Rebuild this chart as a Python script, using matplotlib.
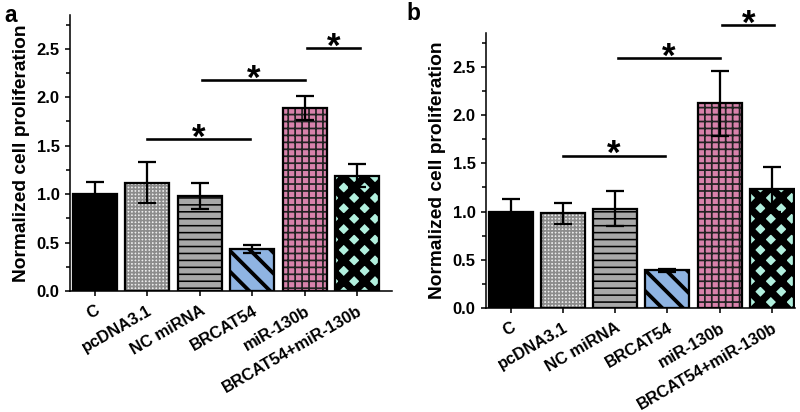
import numpy as np
import matplotlib
matplotlib.use("Agg")
import matplotlib.pyplot as plt

plt.rcParams['font.family'] = ['Liberation Sans', 'DejaVu Sans']
plt.rcParams['font.weight'] = 'bold'

groups = ['C', 'pcDNA3.1', 'NC miRNA', 'BRCAT54', 'miR-130b', 'BRCAT54+miR-130b']

# panel a
means_a = [1.00, 1.12, 0.98, 0.43, 1.89, 1.19]
errs_a = [0.13, 0.21, 0.13, 0.04, 0.12, 0.12]
# (x start, x end, height) of significance bars
sig_a = [(1.0, 2.95, 1.57), (2.05, 4.0, 2.18), (4.05, 5.05, 2.51)]

# panel b
means_b = [1.00, 0.98, 1.03, 0.39, 2.12, 1.23]
errs_b = [0.13, 0.11, 0.18, 0.015, 0.34, 0.23]
sig_b = [(1.0, 2.95, 1.58), (2.05, 4.0, 2.59), (4.05, 5.05, 2.93)]

# face colour, hatch, hatch colour, hatch linewidth
styles = [
    ('black', None, 'black', 1.0),
    ('#ececec', '++++++', '#8c8c8c', 1.0),
    ('#a8a8a8', '---', 'black', 0.9),
    ('#8fb4e2', '\\\\', 'black', 2.2),
    ('#d882ab', '+++', '#222222', 1.0),
    ('#b2f0de', 'xx', 'black', 4.3),
]


def draw_panel(ax, means, errs, sig, xmax):
    x = np.arange(len(groups))
    for i, (fc, hatch, hc, hlw) in enumerate(styles):
        b = ax.bar(x[i], means[i], width=0.84, color=fc, edgecolor=hc,
                   hatch=hatch, linewidth=0, zorder=2)
        for p in b:
            if hasattr(p, 'set_hatch_linewidth'):
                p.set_hatch_linewidth(hlw)
    ax.bar(x, means, width=0.84, fill=False, edgecolor='black',
           linewidth=1.3, zorder=3)
    ax.errorbar(x, means, yerr=errs, fmt='none', ecolor='black',
                elinewidth=1.3, capsize=5, capthick=1.3, zorder=4)

    for x0, x1, h in sig:
        ax.plot([x0, x1], [h, h], color='black', lw=1.5, clip_on=False)
        ax.text((x0 + x1) / 2, h - 0.09, '*', fontsize=20, fontweight='bold',
                ha='center', va='baseline', clip_on=False)

    ax.set_xlim(-0.47, xmax)
    ax.set_ylim(0, 2.85)
    ax.set_yticks(np.arange(0, 2.51, 0.5))
    ax.set_yticks(np.arange(0.25, 2.8, 0.5), minor=True)
    ax.set_yticklabels(['%.1f' % v for v in np.arange(0, 2.51, 0.5)],
                       fontsize=9.5, fontweight='bold')
    ax.set_xticks(x)
    ax.set_xticklabels(groups, rotation=30, ha='right', rotation_mode='anchor',
                       fontsize=9.5, fontweight='bold')
    ax.set_ylabel('Normalized cell proliferation', fontsize=11,
                  fontweight='bold', labelpad=4)
    for s in ['top', 'right']:
        ax.spines[s].set_visible(False)
    for s in ['left', 'bottom']:
        ax.spines[s].set_linewidth(0.9)
    ax.tick_params(axis='both', which='major', length=3, width=0.9, pad=3)
    ax.tick_params(axis='y', which='minor', length=2.5, width=0.9)
    ax.tick_params(axis='x', pad=4)


fig = plt.figure(figsize=(6.4, 3.296), dpi=125)
ax_a = fig.add_axes([0.0875, 0.2937, 0.4025, 0.67])
ax_b = fig.add_axes([0.6075, 0.2524, 0.386, 0.6676])

draw_panel(ax_a, means_a, errs_a, sig_a, 5.66)
draw_panel(ax_b, means_b, errs_b, sig_b, 5.44)

fig.text(0.006, 0.99, 'a', fontsize=13, fontweight='bold', va='top')
fig.text(0.508, 0.995, 'b', fontsize=13, fontweight='bold', va='top')

fig.savefig('out.png', dpi=125)
